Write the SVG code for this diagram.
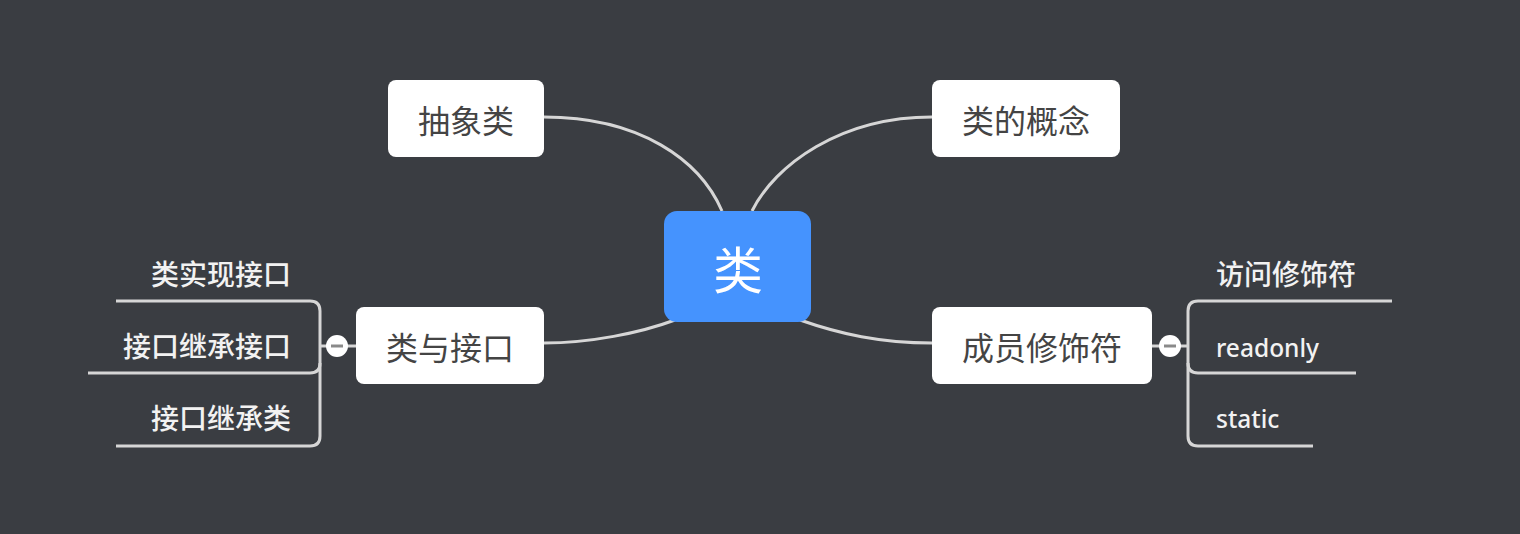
<svg xmlns="http://www.w3.org/2000/svg" width="1520" height="534" viewBox="0 0 1520 534">
<style>
.bg{fill:#3a3d42}
.node{fill:#ffffff}
.nt{font-family:"Noto Sans CJK SC","Noto Sans",sans-serif;font-size:32px;fill:#444444;text-anchor:middle;dominant-baseline:central}
.sub{font-family:"Noto Sans","Noto Sans CJK SC",sans-serif;font-size:28px;fill:#f2f2f2;font-weight:500}
.lat{font-size:24.5px}
.ln{fill:none;stroke:#d6d6d6;stroke-width:3}
.tg{fill:#ffffff}
.tgm{stroke:#8a8a8a;stroke-width:3}
</style>
<rect class="bg" x="0" y="0" width="1520" height="534"/>
<g id="connectors">
<path class="ln" d="M544,117 C640,117 700,160 722,211"/>
<path class="ln" d="M752,211 C775,165 840,117 932,117"/>
<path class="ln" d="M675,320 C640,333 590,343 544,343"/>
<path class="ln" d="M800,320 C840,334 880,343 932,343"/>
<path class="ln" d="M356,346 H321"/>
<path class="ln" d="M116,301 H310 Q320,301 320,311 V436 Q320,446 310,446 H116"/>
<path class="ln" d="M88,373 H310 Q320,373 320,363"/>
<path class="ln" d="M1152,346 H1188"/>
<path class="ln" d="M1392,301 H1198 Q1188,301 1188,311 V436 Q1188,446 1198,446 H1313"/>
<path class="ln" d="M1356,373 H1198 Q1188,373 1188,363"/>
</g>
<g id="root">
<rect x="664" y="211" width="147" height="111" rx="13" fill="#4593fe"/>
<text x="738" y="267" font-family="Noto Sans CJK SC,sans-serif" font-size="50" fill="#ffffff" text-anchor="middle" dominant-baseline="central">类</text>
</g>
<g id="n-abstract">
<rect class="node" x="388" y="80" width="156" height="77" rx="8"/>
<text class="nt" x="466" y="119">抽象类</text>
</g>
<g id="n-concept">
<rect class="node" x="932" y="80" width="188" height="77" rx="8"/>
<text class="nt" x="1026" y="119">类的概念</text>
</g>
<g id="n-interface">
<rect class="node" x="356" y="307" width="188" height="77" rx="8"/>
<text class="nt" x="450" y="346">类与接口</text>
</g>
<g id="n-modifier">
<rect class="node" x="932" y="307" width="220" height="77" rx="8"/>
<text class="nt" x="1042" y="346">成员修饰符</text>
</g>
<g id="toggle-left">
<circle class="tg" cx="337" cy="346" r="11"/>
<line class="tgm" x1="331" y1="346" x2="343" y2="346"/>
</g>
<g id="toggle-right">
<circle class="tg" cx="1170" cy="346" r="11"/>
<line class="tgm" x1="1164" y1="346" x2="1176" y2="346"/>
</g>
<g id="s-impl"><text class="sub" x="291" y="285" text-anchor="end">类实现接口</text></g>
<g id="s-ifinherit"><text class="sub" x="291" y="357" text-anchor="end">接口继承接口</text></g>
<g id="s-clsinherit"><text class="sub" x="291" y="429" text-anchor="end">接口继承类</text></g>
<g id="s-access"><text class="sub" x="1216" y="285">访问修饰符</text></g>
<g id="s-readonly"><text class="sub lat" x="1216" y="357">readonly</text></g>
<g id="s-static"><text class="sub lat" x="1216" y="428">static</text></g>
</svg>
